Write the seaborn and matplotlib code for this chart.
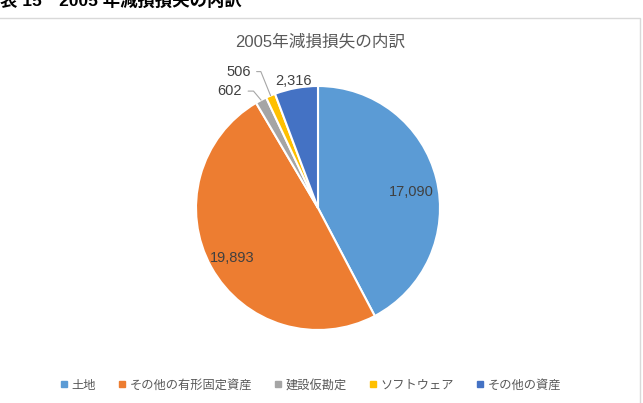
import numpy as np
import matplotlib
matplotlib.use('Agg')
import matplotlib.pyplot as plt
import seaborn as sns
from matplotlib.patches import Rectangle

sns.set_theme(style='white')
plt.rcParams['font.family'] = ['Noto Sans CJK JP', 'DejaVu Sans']
num_font = ['Liberation Sans', 'Noto Sans CJK JP']

categories = ['土地', 'その他の有形固定資産', '建設仮勘定', 'ソフトウェア', 'その他の資産']
values = [17090, 19893, 602, 506, 2316]
colors = ['#5B9BD5', '#ED7D31', '#A5A5A5', '#FFC000', '#4472C4']

W, H = 643, 403
fig = plt.figure(figsize=(W / 100, H / 100), dpi=100)

# chart frame
fig.patches.append(Rectangle((-2 / W, -2 / H), 642 / W, (H - 18 + 2) / H,
                             transform=fig.transFigure, fill=False,
                             edgecolor='#D9D9D9', linewidth=1))

fig.text(0, 1 - 0 / H, '表 15　2005 年減損損失の内訳', ha='left', va='center',
         fontsize=12.5, fontweight='bold', color='black', family=num_font)
fig.text(320 / W, 1 - 42 / H, '2005年減損損失の内訳', ha='center', va='center',
         fontsize=12, color='#595959', family=num_font)

# pie axes: centre (318,208) px, radius 122 px
cx, cy, r, box = 318, 208, 122, 150
ax = fig.add_axes([(cx - box) / W, (H - cy - box) / H, 2 * box / W, 2 * box / H])
wedges, _ = ax.pie(values, colors=colors, startangle=90, counterclock=False,
                   radius=1, wedgeprops=dict(edgecolor='white', linewidth=1.5))
lim = box / r
ax.set_xlim(-lim, lim)
ax.set_ylim(-lim, lim)
ax.set_aspect('equal')
ax.axis('off')

# label placement per slice
place = [
    dict(kind='in', rf=0.78, shift=-4),
    dict(kind='in', rf=0.81, shift=1.0),
    dict(kind='out', dx=-19, dy=9, angB=130),
    dict(kind='out', dx=-20, dy=24, angB=112),
    dict(kind='out', dx=-3, dy=7),
]
for w, v, p in zip(wedges, values, place):
    ang = (w.theta1 + w.theta2) / 2
    label = f'{v:,}'
    if p['kind'] == 'in':
        a = np.deg2rad(ang + p['shift'])
        ax.text(p['rf'] * np.cos(a), p['rf'] * np.sin(a), label, ha='center',
                va='center', fontsize=10.5, color='#404040', family=num_font)
    else:
        a = np.deg2rad(ang)
        x0, y0 = np.cos(a), np.sin(a)
        has_line = 'angB' in p
        arrow = None
        if has_line:
            arrow = dict(arrowstyle='-', color='#A6A6A6', lw=0.8, shrinkA=2, shrinkB=0,
                         connectionstyle=f"angle,angleA=0,angleB={p['angB']},rad=0")
        ax.annotate(label, xy=(x0, y0), xytext=(p['dx'], p['dy']),
                    textcoords='offset pixels', ha='right' if has_line else 'center',
                    va='center', fontsize=10.5, color='#404040', family=num_font,
                    arrowprops=arrow)

handles = [plt.Line2D([], [], marker='s', linestyle='', markersize=3.8,
                      markerfacecolor=c, markeredgecolor=c) for c in colors]
fig.legend(handles, categories, loc='center', bbox_to_anchor=(311 / W, 1 - 385 / H),
           ncol=5, frameon=False, fontsize=8.8, labelcolor='#595959',
           handlelength=0.5, handletextpad=0.35, columnspacing=1.9)

fig.savefig('out.png', dpi=100)
